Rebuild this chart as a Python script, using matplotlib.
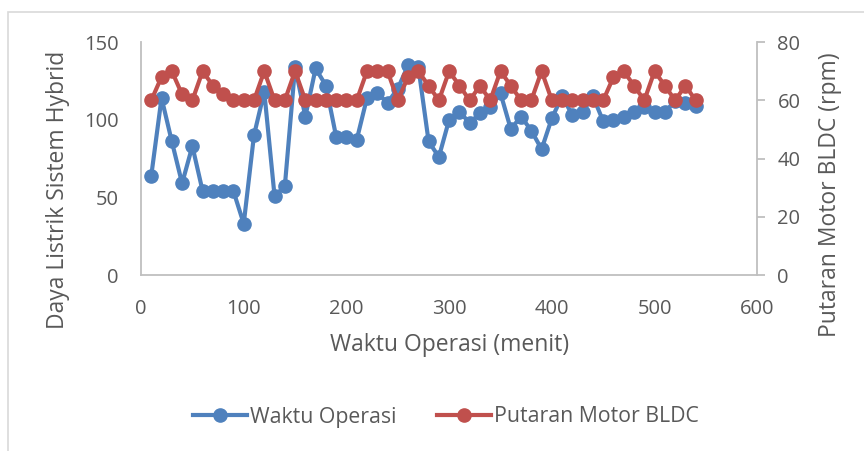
import matplotlib
matplotlib.use("Agg")
import matplotlib.pyplot as plt
from matplotlib.patches import Rectangle

# *
# Data
# *
waktu = [10, 20, 30, 40, 50, 60, 70, 80, 90, 100,
         110, 120, 130, 140, 150, 160, 170, 180, 190, 200,
         210, 220, 230, 240, 250, 260, 270, 280, 290, 300,
         310, 320, 330, 340, 350, 360, 370, 380, 390, 400,
         410, 420, 430, 440, 450, 460, 470, 480, 490, 500,
         510, 520, 530, 540]

daya = [64, 114, 86, 59, 83, 54, 54, 54, 54, 33,
        90, 118, 51, 57, 134, 102, 133, 122, 89, 89,
        87, 114, 117, 111, 120, 135, 134, 86, 76, 100,
        105, 98, 104, 108, 117, 94, 102, 93, 81, 101,
        115, 103, 105, 115, 99, 100, 102, 105, 108, 105,
        105, 112, 111, 109]

putaran = [60, 68, 70, 62, 60, 70, 65, 62, 60, 60,
           60, 70, 60, 60, 70, 60, 60, 60, 60, 60,
           60, 70, 70, 70, 60, 68, 70, 65, 60, 70,
           65, 60, 65, 60, 70, 65, 60, 60, 70, 60,
           60, 60, 60, 60, 60, 68, 70, 65, 60, 70,
           65, 60, 65, 60]

x_ticks = [0, 100, 200, 300, 400, 500, 600]
left_ticks = [0, 50, 100, 150]
right_ticks = [0, 20, 40, 60, 80]

# *
# Style
# *
plt.rcParams['font.family'] = ['Open Sans', 'DejaVu Sans']
blue = '#4F81BD'
red = '#C0504D'
grey_txt = '#595959'
grey_ax = '#BFBFBF'
W, H = 864, 451

fig = plt.figure(figsize=(8.64, 4.51), dpi=100)
ax = fig.add_axes([0.1632, 0.3902, 0.7133, 0.5166])
ax2 = ax.twinx()

ax.plot(waktu, daya, color=blue, lw=3, marker='o', ms=9.5, label='Waktu Operasi')
ax2.plot(waktu, putaran, color=red, lw=3, marker='o', ms=9.5, label='Putaran Motor BLDC')

ax.set_xlim(0, 600)
ax.set_ylim(0, 150)
ax2.set_ylim(0, 80)
ax.set_xticks(x_ticks)
ax.set_yticks(left_ticks)
ax2.set_yticks(right_ticks)

for a in (ax, ax2):
    for s in a.spines.values():
        s.set_color(grey_ax)
        s.set_linewidth(1.3)
    a.spines['top'].set_visible(False)
ax.spines['right'].set_visible(False)
ax2.spines['left'].set_visible(False)
ax2.spines['bottom'].set_visible(False)

ax.tick_params(axis='x', length=0, pad=17, labelsize=14.5, labelcolor=grey_txt)
ax.tick_params(axis='y', length=0, pad=16, labelsize=14.5, labelcolor=grey_txt)
ax2.tick_params(axis='y', length=5.5, width=1.3, color=grey_ax, pad=9,
                labelsize=14.5, labelcolor=grey_txt)

# axis titles (placed like the Excel chart)
fig.text(450 / W, 1 - 345 / H, 'Waktu Operasi (menit)', fontsize=16.5,
         color=grey_txt, ha='center', va='center')
fig.text(58 / W, 1 - 190 / H, 'Daya Listrik Sistem Hybrid', fontsize=16.5,
         color=grey_txt, ha='center', va='center', rotation=90)
fig.text(830 / W, 1 - 195 / H, 'Putaran Motor BLDC (rpm)', fontsize=16.5,
         color=grey_txt, ha='center', va='center', rotation=90)

h1, l1 = ax.get_legend_handles_labels()
h2, l2 = ax2.get_legend_handles_labels()
fig.legend(h1 + h2, l1 + l2, loc='center', bbox_to_anchor=(446 / W, 1 - 417 / H),
           ncol=2, frameon=False, fontsize=15.3, labelcolor=grey_txt,
           handlelength=2.55, handletextpad=0.15, columnspacing=1.9)

# chart border (Excel chart area)
fig.patches.append(Rectangle((8 / W, -0.1), 1.0, 1 - 12 / H + 0.1,
                             transform=fig.transFigure, fill=False,
                             edgecolor='#D9D9D9', lw=1.2))

fig.savefig('out.png', dpi=100)
